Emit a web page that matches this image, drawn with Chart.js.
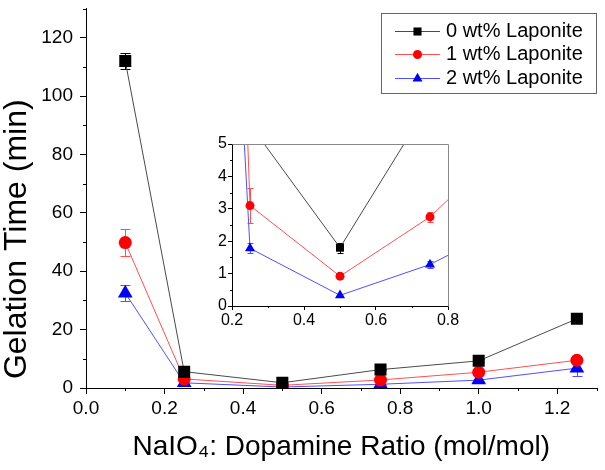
<!DOCTYPE html>
<html>
<head>
<meta charset="utf-8">
<script src="https://cdn.jsdelivr.net/npm/chart.js@4/dist/chart.umd.min.js"></script>
<style>
  html, body { margin: 0; padding: 0; background: #fff; }
  #wrap { position: relative; width: 605px; height: 470px; }
  #main { position: absolute; left: 0; top: 0; }
  #inset { position: absolute; left: 200px; top: 130px; }
</style>
</head>
<body>
<div id="wrap">
  <canvas id="main" width="605" height="470"></canvas>
  <canvas id="inset" width="270" height="200"></canvas>
</div>
<script>
// NaIO4 : dopamine ratio (mol/mol)
const ratios = [0.1, 0.25, 0.5, 0.75, 1.0, 1.25];

// gelation time (min) and error bars
const lap0 = [112, 5.6, 1.8, 6.3, 9.3, 23.7];
const lap0Err = [2.8, 0.3, 0.15, 0.3, 0.5, 0.6];
const lap1 = [49.8, 3.1, 0.92, 2.75, 5.4, 9.5];
const lap1Err = [4.7, 0.55, 0.1, 0.15, 0.4, 0.6];
const lap2 = [32.5, 1.78, 0.33, 1.28, 2.7, 6.8];
const lap2Err = [2.8, 0.15, 0.05, 0.1, 0.4, 2.8];

const seriesNames = ["0 wt% Laponite", "1 wt% Laponite", "2 wt% Laponite"];

// tick labels
const xTicks = [0, 0.2, 0.4, 0.6, 0.8, 1.0, 1.2];
const xMinor = [0.1, 0.3, 0.5, 0.7, 0.9, 1.1, 1.3];
const yTicks = [0, 20, 40, 60, 80, 100, 120];
const yMinor = [10, 30, 50, 70, 90, 110, 130];
const insetXTicks = [0.2, 0.4, 0.6, 0.8];
const insetXMinor = [0.3, 0.5, 0.7];
const insetYTicks = [0, 1, 2, 3, 4, 5];
const insetYMinor = [0.5, 1.5, 2.5, 3.5, 4.5];

const FONT = "'Liberation Sans', Arial, Helvetica, sans-serif";
Chart.defaults.font.family = FONT;
Chart.defaults.color = "#000";

const styles = [
  { line: "#4a4a4a", mark: "#000", err: "#000", shape: "rect", r: 8.5, ri: 5.7 },
  { line: "#ff5050", mark: "#ff0000", err: "#ff5050", shape: "circle", r: 6.5, ri: 4.5 },
  { line: "#5050ff", mark: "#0000ff", err: "#5050ff", shape: "triangle", r: 8.5, ri: 5.8 },
];

function makeDatasets(inset) {
  const vals = [lap0, lap1, lap2];
  const errs = [lap0Err, lap1Err, lap2Err];
  return vals.map((v, i) => ({
    label: seriesNames[i],
    data: ratios.map((x, j) => ({ x: x, y: v[j] })),
    errors: errs[i],
    errorColor: styles[i].err,
    borderColor: styles[i].line,
    borderWidth: 1,
    pointStyle: styles[i].shape,
    pointRadius: inset ? styles[i].ri : styles[i].r,
    pointBackgroundColor: styles[i].mark,
    pointBorderColor: styles[i].mark,
    pointBorderWidth: 0,
    tension: 0,
  }));
}

// error bars drawn behind the lines and markers
const errorBars = {
  id: "errorBars",
  beforeDatasetsDraw(chart, args, opts) {
    const { ctx, chartArea, scales: { x, y } } = chart;
    ctx.save();
    ctx.beginPath();
    ctx.rect(chartArea.left, chartArea.top, chartArea.right - chartArea.left, chartArea.bottom - chartArea.top);
    ctx.clip();
    ctx.lineWidth = 1;
    chart.data.datasets.forEach(ds => {
      ctx.strokeStyle = ds.errorColor;
      ds.data.forEach((p, i) => {
        const e = ds.errors[i];
        const px = Math.round(x.getPixelForValue(p.x)) + 0.5;
        const t = Math.round(y.getPixelForValue(p.y + e)) + 0.5;
        const b = Math.round(y.getPixelForValue(p.y - e)) + 0.5;
        ctx.beginPath();
        ctx.moveTo(px, t); ctx.lineTo(px, b);
        ctx.moveTo(px - opts.cap, t); ctx.lineTo(px + opts.cap, t);
        ctx.moveTo(px - opts.cap, b); ctx.lineTo(px + opts.cap, b);
        ctx.stroke();
      });
    });
    ctx.restore();
  }
};

// short minor ticks outside the axes
const minorTicks = {
  id: "minorTicks",
  afterDraw(chart, args, opts) {
    const { ctx, chartArea, scales: { x, y } } = chart;
    ctx.save();
    ctx.strokeStyle = opts.color;
    ctx.lineWidth = 1;
    opts.x.forEach(v => {
      const px = Math.round(x.getPixelForValue(v)) + 0.5;
      ctx.beginPath();
      ctx.moveTo(px, chartArea.bottom);
      ctx.lineTo(px, chartArea.bottom + opts.len);
      ctx.stroke();
    });
    opts.y.forEach(v => {
      const py = Math.round(y.getPixelForValue(v)) + 0.5;
      ctx.beginPath();
      ctx.moveTo(chartArea.left, py);
      ctx.lineTo(chartArea.left - opts.len, py);
      ctx.stroke();
    });
    if (opts.frame) {
      ctx.strokeStyle = opts.frame;
      ctx.beginPath();
      ctx.moveTo(Math.round(chartArea.left) + 0.5, Math.round(chartArea.top) + 0.5);
      ctx.lineTo(Math.round(chartArea.right) + 0.5, Math.round(chartArea.top) + 0.5);
      ctx.lineTo(Math.round(chartArea.right) + 0.5, Math.round(chartArea.bottom) + 0.5);
      ctx.stroke();
    }
    ctx.restore();
  }
};

// legend box: line through marker, as in the original
const lineLegend = {
  id: "lineLegend",
  afterDraw(chart) {
    const { ctx } = chart;
    ctx.save();
    ctx.strokeStyle = "#666";
    ctx.lineWidth = 1;
    ctx.strokeRect(381.5, 13.5, 215, 80);
    const rows = [31, 54, 78];
    chart.data.datasets.forEach((ds, i) => {
      const yy = rows[i] + 0.5;
      ctx.strokeStyle = ds.borderColor;
      ctx.beginPath();
      ctx.moveTo(395, yy); ctx.lineTo(440, yy);
      ctx.stroke();
      ctx.fillStyle = styles[i].mark;
      ctx.strokeStyle = styles[i].mark;
      Chart.helpers.drawPoint(ctx, { pointStyle: styles[i].shape, radius: styles[i].ri, borderWidth: 0, rotation: 0 }, 417.5, yy);
      ctx.fillStyle = "#000";
      ctx.font = "20px " + FONT;
      ctx.textBaseline = "middle";
      ctx.textAlign = "left";
      ctx.fillText(ds.label, 446, yy);
    });
    ctx.restore();
  }
};

function axis(opts) {
  return {
    type: "linear",
    min: opts.min,
    max: opts.max,
    afterBuildTicks: s => { s.ticks = opts.ticks.map(v => ({ value: v })); },
    afterFit: s => {
      if (opts.width) s.width = opts.width;
      if (opts.height) s.height = opts.height;
      s.paddingTop = 0; s.paddingBottom = 0; s.paddingLeft = 0; s.paddingRight = 0;
    },
    grid: { drawOnChartArea: false, drawTicks: true, tickLength: opts.tick, color: "#000" },
    border: { color: "#000", width: 1 },
    ticks: {
      color: "#000",
      font: { size: opts.font },
      padding: opts.pad,
      maxRotation: 0,
      autoSkip: false,
      callback: opts.fmt,
    },
    title: opts.title ? {
      display: true,
      text: opts.title,
      align: opts.titleAlign || "center",
      color: "#000",
      font: { size: opts.titleSize, lineHeight: 1 },
      padding: opts.titlePad,
    } : { display: false },
  };
}

new Chart(document.getElementById("main"), {
  type: "line",
  data: { datasets: makeDatasets(false) },
  options: {
    responsive: false,
    animation: false,
    devicePixelRatio: 1,
    layout: { padding: { top: 0, right: 2, left: 0, bottom: 0 } },
    scales: {
      x: axis({ min: 0, max: 1.3, ticks: xTicks, height: 82, tick: 6, font: 19, pad: 3,
        fmt: v => v.toFixed(1), title: "NaIO\u2084: Dopamine Ratio (mol/mol)", titleSize: 28,
        titlePad: { bottom: 9 } }),
      y: axis({ min: 0, max: 130, ticks: yTicks, width: 86, tick: 6, font: 19, pad: 7,
        fmt: v => String(v), title: " Gelation Time (min)", titleSize: 32, titleAlign: "start",
        titlePad: { top: 1 } }),
    },
    plugins: {
      legend: { display: false },
      tooltip: { enabled: false },
      errorBars: { cap: 5 },
      minorTicks: { x: xMinor, y: yMinor, len: 3, color: "#000" },
    },
  },
  plugins: [errorBars, minorTicks, lineLegend],
});

new Chart(document.getElementById("inset"), {
  type: "line",
  data: { datasets: makeDatasets(true) },
  options: {
    responsive: false,
    animation: false,
    devicePixelRatio: 1,
    layout: { padding: { top: 14, right: 22, left: 0, bottom: 0 } },
    scales: {
      x: axis({ min: 0.2, max: 0.8, ticks: insetXTicks, height: 24, tick: 4, font: 16, pad: 1,
        fmt: v => v.toFixed(1) }),
      y: axis({ min: 0, max: 5, ticks: insetYTicks, width: 32, tick: 4, font: 16, pad: 1,
        fmt: v => String(v) }),
    },
    plugins: {
      legend: { display: false },
      tooltip: { enabled: false },
      errorBars: { cap: 3 },
      minorTicks: { x: insetXMinor, y: insetYMinor, len: 2, color: "#000", frame: "#888" },
    },
  },
  plugins: [errorBars, minorTicks],
});
</script>
</body>
</html>
